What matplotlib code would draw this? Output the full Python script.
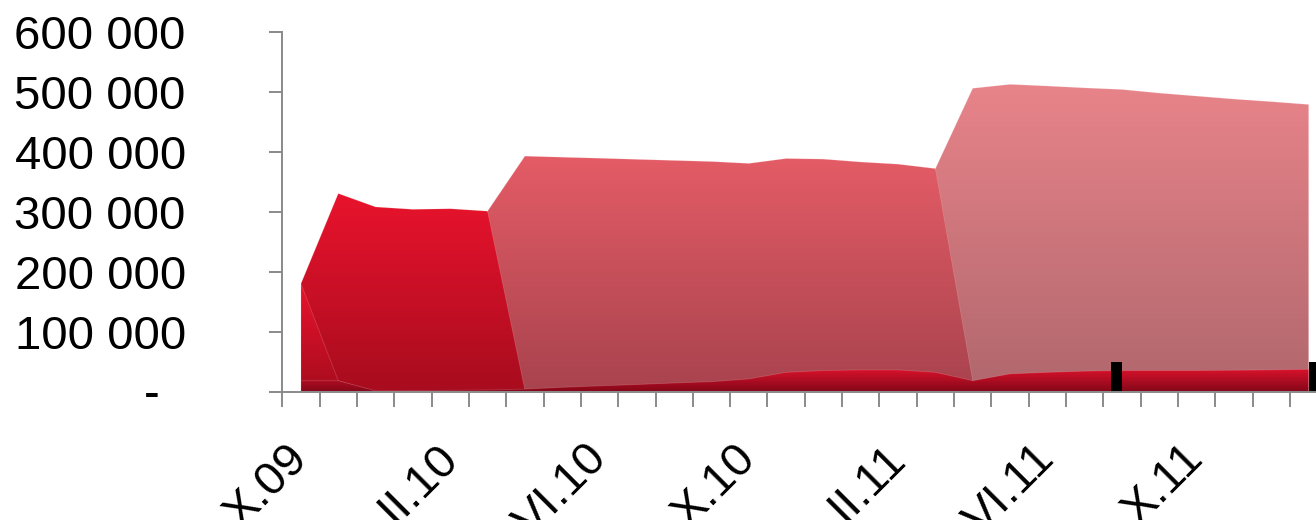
import numpy as np
import matplotlib
matplotlib.use("Agg")
import matplotlib.pyplot as plt
from matplotlib.colors import LinearSegmentedColormap
from matplotlib.ticker import FixedLocator, FuncFormatter
from matplotlib.transforms import ScaledTranslation

plt.rcParams['font.family'] = ['Liberation Sans', 'DejaVu Sans']

# monthly values, X.2009 .. I.2012 (28 months)
n_months = 28
tick_labels = ["X.09", "II.10", "VI.10", "X.10", "II.11", "VI.11", "X.11"]
label_step = 4

series_c = [0] * 17 + [372000, 506000, 512600, 509800, 506700, 504000,
                       498000, 493000, 488000, 483700, 479000]
series_b = [0, 0, 0, 0, 0, 301000, 392800, 391000, 389300, 387400, 385600,
            383800, 380600, 388800, 387800, 383000, 379400, 372000, 18000] + [0] * 9
series_a = [180000, 330400, 308000, 304000, 305000, 301000, 3000] + [0] * 21
series_e = [180000, 18000] + [0] * 26
series_d = [18000, 18000, 1000, 1500, 2000, 2500, 4000, 7000, 9400, 11700,
            14200, 16400, 21000, 32000, 35000, 36000, 36000, 32000, 18000,
            29500, 32000, 34000, 35000, 35000, 35000, 35500, 36000, 37000]

# markers shown as black columns (month position, value)
event_pos = [21.85, 27.16]
event_val = [50000, 50000]

y_ticks = [0, 100000, 200000, 300000, 400000, 500000, 600000]

# back-to-front drawing order with (top colour, bottom colour)
layers = [
    (series_c, "#e8848a", "#b0676d"),
    (series_b, "#e45c66", "#a8434e"),
    (series_a, "#e9132d", "#a80c1e"),
    (series_e, "#e9132d", "#a80c1e"),
    (series_d, "#dc122c", "#86081a"),
]

fig = plt.figure(figsize=(13.16, 5.2), dpi=100)
ax = fig.add_axes([282.3 / 1316, 128.5 / 520, 1045 / 1316, 359.5 / 520])

x = np.arange(n_months)
grad = np.linspace(0, 1, 256).reshape(-1, 1)
for i, (vals, top, bottom) in enumerate(layers):
    vals = np.asarray(vals, dtype=float)
    z = 2 + i
    poly = ax.fill_between(x, 0, vals, facecolor="none",
                           edgecolor=(1, 0.85, 0.85, 0.2), lw=0.6, zorder=z + 0.5)
    cmap = LinearSegmentedColormap.from_list("g%d" % i, [bottom, top])
    im = ax.imshow(grad, cmap=cmap, aspect="auto", origin="lower",
                   extent=[x[0], x[-1], 0, vals.max()], zorder=z,
                   interpolation="bilinear")
    im.set_clip_path(poly.get_paths()[0], ax.transData)

ax.bar(event_pos, event_val, width=0.295, color="black", zorder=10)

ax.set_xlim(-0.5, n_months - 0.5)
ax.set_ylim(0, 600000)

grey = "#8a8a8a"
for side in ["top", "right"]:
    ax.spines[side].set_visible(False)
for side in ["left", "bottom"]:
    ax.spines[side].set_color(grey)
    ax.spines[side].set_linewidth(1.4)
    ax.spines[side].set_zorder(12)

ax.yaxis.set_major_locator(FixedLocator(y_ticks))
ax.yaxis.set_major_formatter(FuncFormatter(
    lambda v, p: "-  " if v == 0 else "{:,.0f}".format(v).replace(",", " ")))
ax.tick_params(axis="y", direction="out", length=9.5, width=1.4, color=grey,
               labelsize=34, pad=60)

# tick marks between months, labels every fourth month
ax.xaxis.set_major_locator(FixedLocator(np.arange(-0.5, n_months, 1.0)))
ax.xaxis.set_major_formatter(FuncFormatter(lambda v, p: ""))
ax.xaxis.set_minor_locator(FixedLocator(np.arange(0, n_months, label_step)[:len(tick_labels)]))
ax.set_xticklabels(tick_labels, minor=True)
ax.tick_params(axis="x", which="major", direction="out", length=11, width=1.4, color=grey)
ax.tick_params(axis="x", which="minor", length=0, labelsize=34, pad=32)
shift = ScaledTranslation(-15 / 100, 0, fig.dpi_scale_trans)
for lab in ax.xaxis.get_minorticklabels():
    lab.set_rotation(45)
    lab.set_rotation_mode("anchor")
    lab.set_ha("right")
    lab.set_va("top")
    lab.set_transform(lab.get_transform() + shift)

fig.savefig("out.png", dpi=100)
